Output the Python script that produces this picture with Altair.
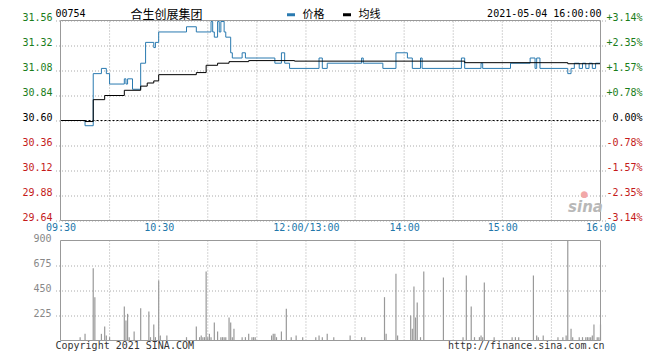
import altair as alt
import pandas as pd

# ---------------- data ----------------
stock_code = "00754"
stock_name = "合生创展集团"
stamp = "2021-05-04 16:00:00"
series_names = ["价格", "均线"]
prev_close = 30.60

price_ticks = [29.64, 29.88, 30.12, 30.36, 30.60, 30.84, 31.08, 31.32, 31.56]
vol_ticks = [225, 450, 675, 900]
time_tick_min = [0, 60, 150, 210, 270, 330]
time_tick_lab = ["09:30", "10:30", "12:00/13:00", "14:00", "15:00", "16:00"]
grid_min = [30, 60, 90, 120, 150, 180, 210, 240, 270, 300]

# minutes since 09:30 (trading minutes, lunch removed)
price_min = [0, 15, 20, 25, 28, 30, 39, 40, 41, 44, 49, 52, 57, 58, 60, 77, 83,
             92, 93, 94, 96, 97, 98, 100, 101, 104, 105, 111, 113, 131, 135, 137,
             140, 158, 160, 163, 184, 185, 197, 205, 212, 215, 220, 221, 245, 247,
             257, 258, 275, 287, 290, 291, 293, 310, 312, 314, 317, 319, 321, 323,
             325, 327, 330]
price_val = [30.60, 30.55, 31.05, 31.10, 31.05, 30.95, 31.00, 30.95, 31.00, 30.90,
             31.15, 31.35, 31.30, 31.35, 31.45, 31.50, 31.45,
             31.55, 31.45, 31.40, 31.55, 31.45, 31.55, 31.45, 31.40, 31.25, 31.20,
             31.25, 31.20, 31.15, 31.25, 31.15,
             31.10, 31.20, 31.10, 31.15, 31.20, 31.15, 31.10, 31.25, 31.20, 31.10,
             31.20, 31.10, 31.20, 31.10,
             31.15, 31.10, 31.15, 31.20, 31.10, 31.20, 31.10, 31.05, 31.10, 31.15,
             31.10, 31.15, 31.10, 31.15, 31.10, 31.15, 31.15]

avg_min = [0, 15, 20, 27, 39, 49, 53, 57, 60, 83, 89, 96, 103, 115, 143, 247, 310, 330]
avg_val = [30.60, 30.59, 30.80, 30.84, 30.89, 30.93, 30.96, 30.98, 31.04, 31.06,
           31.13, 31.15, 31.165, 31.175, 31.17, 31.155, 31.145, 31.145]

vol_min = [12, 15, 20, 21, 25, 27, 28, 30, 39, 40, 41, 42, 45, 49, 54, 55, 57, 58,
           60, 61, 65, 77, 83, 85, 86, 87, 88, 89, 90, 91, 92, 94, 96, 98, 99, 100,
           101, 103, 104, 105, 106, 111, 113, 115, 117, 118, 119, 129, 130, 131, 132,
           135, 138, 141, 144, 148, 156, 158, 160, 163, 167, 177, 184, 186, 198, 199,
           205, 206, 214, 215, 216, 217, 218, 220, 222, 234, 246, 248, 251, 253, 256,
           257, 258, 259, 265, 276, 278, 280, 289, 291, 292, 295, 304, 307, 309, 310,
           312, 313, 317, 319, 321, 322, 323, 324, 325, 326, 328, 329, 330]
vol_val = [30, 60, 651, 390, 60, 126, 45, 30, 306, 180, 240, 30, 81, 291, 261, 30,
           144, 30, 540, 45, 45, 30, 126, 30, 45, 30, 30, 621, 30, 60, 30, 162, 81,
           30, 30, 30, 30, 207, 162, 30, 105, 30, 30, 60, 30, 30, 30, 45, 60, 60, 30,
           81, 285, 30, 45, 30, 30, 45, 30, 60, 30, 45, 30, 30, 390, 60, 600, 45, 225,
           105, 486, 207, 342, 30, 621, 567, 30, 585, 306, 30, 30, 45, 30, 522, 30,
           30, 30, 30, 585, 45, 30, 45, 30, 30, 45, 1200, 105, 30, 30, 30, 30, 30, 30,
           30, 45, 144, 30, 30, 144]

# ---------------- styles ----------------
MONO = "DejaVu Sans Mono"
CJK = "Noto Sans CJK SC"
BLUE = "#2a7ab0"
TIME_BLUE = "#2277aa"
GRID = "#aaaaaa"
BORDER = "#999999"
GREEN = "#1a7d1a"
RED = "#c41a1a"
HEAD_Y = -7
FOOT_Y = 325.5

# ---------------- frames ----------------
line_df = pd.concat([
    pd.DataFrame({"m": price_min, "p": price_val, "s": series_names[0]}),
    pd.DataFrame({"m": avg_min, "p": avg_val, "s": series_names[1]}),
])
vol_df = pd.DataFrame({"m": vol_min, "v": vol_val})
grid_df = pd.DataFrame({"m": grid_min, "plo": price_ticks[0], "phi": price_ticks[-1],
                        "vlo": 0, "vhi": vol_ticks[-1]})
frame_df = pd.DataFrame({"m": [time_tick_min[0]], "m2": [time_tick_min[-1]],
                         "plo": [price_ticks[0]], "phi": [price_ticks[-1]],
                         "vlo": [0], "vhi": [vol_ticks[-1]], "pc": [prev_close]})


def pct_text(p):
    v = (p - prev_close) / prev_close * 100
    if abs(v) < 0.005:
        return "0.00%"
    return f"{v:+.2f}%"


def col_for(p):
    if p > prev_close + 0.001:
        return GREEN
    if p < prev_close - 0.001:
        return RED
    return "#000000"


plab = pd.DataFrame({
    "p": price_ticks,
    "txt": [f"{p:.2f}" for p in price_ticks],
    "pct": [pct_text(p) for p in price_ticks],
    "col": [col_for(p) for p in price_ticks],
})
vlab = pd.DataFrame({"v": vol_ticks, "txt": [str(v) for v in vol_ticks]})

# ---------------- scales / axes ----------------
x_scale = alt.Scale(domain=[time_tick_min[0], time_tick_min[-1]], nice=False, zero=False)
price_scale = alt.Scale(domain=[price_ticks[0], price_ticks[-1]], range=[200, 0],
                        nice=False, zero=False)
vol_scale = alt.Scale(domain=[0, vol_ticks[-1]], range=[320, 220], nice=False, clamp=True)

lab_arr = "[" + ",".join(f"'{t}'" for t in time_tick_lab) + "]"
min_arr = "[" + ",".join(str(t) for t in time_tick_min) + "]"
x_axis = alt.Axis(values=time_tick_min, labelExpr=f"{lab_arr}[indexof({min_arr}, datum.value)]",
                  labelFlush=True, labelOverlap=False, orient="bottom", offset=-120,
                  ticks=False, tickSize=0, domain=False, grid=False, labelFont=MONO,
                  labelFontSize=10, labelColor=TIME_BLUE, labelPadding=2, title="")


def X(field):
    return alt.X(f"{field}:Q", scale=x_scale, axis=x_axis)


layers = []

# vertical dotted grid lines
layers.append(alt.Chart(grid_df).mark_rule(color=GRID, strokeDash=[1, 2], strokeWidth=1).encode(
    x=X("m"), y=alt.Y("plo:Q", scale=price_scale, axis=None), y2="phi:Q"))
layers.append(alt.Chart(grid_df).mark_rule(color=GRID, strokeDash=[1, 2], strokeWidth=1).encode(
    x=X("m"), y=alt.Y("vlo:Q", scale=vol_scale, axis=None), y2="vhi:Q"))

# volume bars (with volume grid)
layers.append(alt.Chart(vol_df).mark_bar(width=1.2, color="#999999").encode(
    x=X("m"),
    y=alt.Y("v:Q", scale=vol_scale,
            axis=alt.Axis(values=vol_ticks[:-1], grid=True, labels=False, ticks=False,
                          domain=False, gridDash=[1, 2], gridColor=GRID, title=""))))

# previous close
layers.append(alt.Chart(frame_df).mark_rule(color="#000000", strokeDash=[2, 2], strokeWidth=1).encode(
    x=X("m"), x2="m2:Q", y=alt.Y("pc:Q", scale=price_scale, axis=None)))

# price lines (with price grid and legend)
layers.append(alt.Chart(line_df).mark_line(interpolate="step-after", strokeWidth=1).encode(
    x=X("m"),
    y=alt.Y("p:Q", scale=price_scale,
            axis=alt.Axis(values=price_ticks, grid=True, labels=False, ticks=False,
                          domain=False, gridDash=[1, 2], gridColor=GRID, title="")),
    color=alt.Color("s:N", scale=alt.Scale(domain=series_names, range=[BLUE, "#000000"]),
                    legend=alt.Legend(orient="none", legendX=230, legendY=-11.5,
                                      direction="horizontal", title=None,
                                      symbolType="stroke", symbolStrokeWidth=3,
                                      symbolSize=64, labelFont=CJK, labelFontSize=11,
                                      labelColor="#000000", columnPadding=12,
                                      labelOffset=6, padding=0))))

# panel frames
layers.append(alt.Chart(frame_df).mark_rect(fillOpacity=0, stroke=BORDER, strokeWidth=1).encode(
    x=X("m"), x2="m2:Q", y=alt.Y("plo:Q", scale=price_scale, axis=None), y2="phi:Q"))
layers.append(alt.Chart(frame_df).mark_rect(fillOpacity=0, stroke=BORDER, strokeWidth=1).encode(
    x=X("m"), x2="m2:Q", y=alt.Y("vlo:Q", scale=vol_scale, axis=None), y2="vhi:Q"))

# tick labels
layers.append(alt.Chart(plab).mark_text(align="right", baseline="middle", dy=-3, font=MONO,
                                        fontSize=10).encode(
    x=alt.value(-3), y=alt.Y("p:Q", scale=price_scale, axis=None), text="txt:N",
    color=alt.Color("col:N", scale=None)))
layers.append(alt.Chart(plab).mark_text(align="right", baseline="middle", dy=-3, font=MONO,
                                        fontSize=10).encode(
    x=alt.value(587), y=alt.Y("p:Q", scale=price_scale, axis=None), text="pct:N",
    color=alt.Color("col:N", scale=None)))
layers.append(alt.Chart(vlab).mark_text(align="right", baseline="middle", dy=-2, font=MONO,
                                        fontSize=10, color="#888888").encode(
    x=alt.value(-4), y=alt.Y("v:Q", scale=vol_scale, axis=None), text="txt:N"))

# header / footer / watermark
def note(text, x, y, align="left", font=MONO, size=10, color="#000000", **kw):
    return alt.Chart(pd.DataFrame({"t": [text]})).mark_text(
        align=align, baseline="middle", font=font, fontSize=size, color=color, **kw).encode(
        x=alt.value(x), y=alt.value(y), text="t:N")


layers.append(note(stock_code, 0, HEAD_Y))
layers.append(note(stock_name, 75, HEAD_Y + 1.5, font=CJK, size=12))
layers.append(note(stamp, 546, HEAD_Y, align="right"))
layers.append(note("Copyright 2021 SINA.COM", 0, FOOT_Y, color="#333333"))
layers.append(note("http://finance.sina.com.cn", 549, FOOT_Y, align="right", color="#333333"))
layers.append(note("sina", 530, 186, align="center", font="DejaVu Sans", size=15,
                   color="#b8b8b8", fontStyle="italic", fontWeight="bold"))
layers.append(note("●", 529, 173, align="center", font="DejaVu Sans", size=9,
                   color="#f2a8a8"))

chart = alt.layer(*layers).resolve_scale(y="independent").properties(
    width=550, height=320,
    padding={"left": 47.5, "top": 12.5, "right": 46.5, "bottom": 11.5},
    autosize=alt.AutoSizeParams(type="none"),
).configure_view(stroke="transparent")

chart.save("out.html", embed_options={"renderer": "svg", "actions": False})
